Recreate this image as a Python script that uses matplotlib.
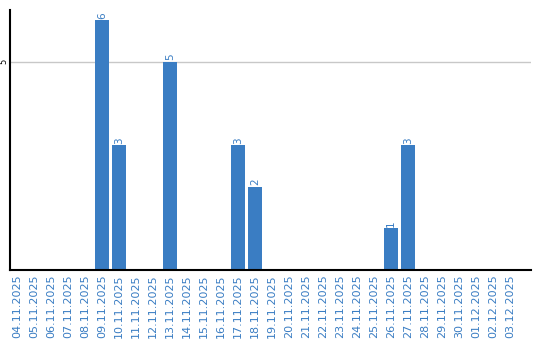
import matplotlib
matplotlib.use('Agg')
import matplotlib.pyplot as plt
import numpy as np

days = ['04.11.2025', '05.11.2025', '06.11.2025', '07.11.2025', '08.11.2025',
        '09.11.2025', '10.11.2025', '11.11.2025', '12.11.2025', '13.11.2025',
        '14.11.2025', '15.11.2025', '16.11.2025', '17.11.2025', '18.11.2025',
        '19.11.2025', '20.11.2025', '21.11.2025', '22.11.2025', '23.11.2025',
        '24.11.2025', '25.11.2025', '26.11.2025', '27.11.2025', '28.11.2025',
        '29.11.2025', '30.11.2025', '01.12.2025', '02.12.2025', '03.12.2025']
counts = [0, 0, 0, 0, 0, 6, 3, 0, 0, 5, 0, 0, 0, 3, 2,
          0, 0, 0, 0, 0, 0, 0, 1, 3, 0, 0, 0, 0, 0, 0]

blue = '#3a7dc3'

fig = plt.figure(figsize=(5.4, 3.4), dpi=100)
ax = fig.add_axes([10/540, 70/340, 521/540, 260/340])

x = np.arange(len(days))
bars = ax.bar(x, counts, width=0.82, color=blue, zorder=2)

for xi, v in zip(x, counts):
    if v > 0:
        ax.text(xi, v + 0.03, str(v), rotation=90, ha='center', va='bottom',
                fontsize=7.5, color=blue)

ax.set_xlim(-0.41, 30.24)
ax.set_ylim(0, 6.24)
ax.set_yticks([5])
ax.set_yticklabels(['5'], rotation=90, va='center', fontsize=6)
ax.yaxis.grid(True, color='#c8c8c8', linewidth=1, zorder=0)
ax.tick_params(axis='y', length=0, pad=1)
ax.set_xticks(x)
ax.set_xticklabels(days, rotation=90, fontsize=8, color=blue)
ax.tick_params(axis='x', length=0, pad=3)
ax.spines['top'].set_visible(False)
ax.spines['right'].set_visible(False)
ax.spines['left'].set_linewidth(1.5)
ax.spines['bottom'].set_linewidth(1.5)

plt.savefig('out.png', dpi=100)
